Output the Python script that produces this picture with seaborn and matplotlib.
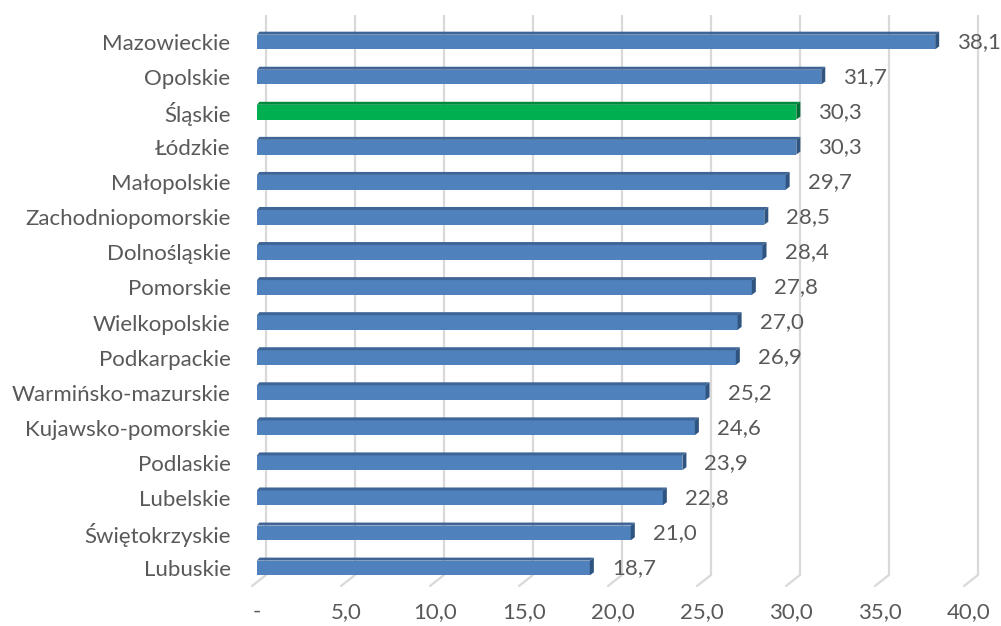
import matplotlib
matplotlib.use("Agg")
import matplotlib.pyplot as plt
import matplotlib.transforms as mtransforms
from matplotlib.patches import Polygon
import seaborn as sns
import pandas as pd

categories = ["Mazowieckie", "Opolskie", "Śląskie", "Łódzkie", "Małopolskie",
              "Zachodniopomorskie", "Dolnośląskie", "Pomorskie", "Wielkopolskie",
              "Podkarpackie", "Warmińsko-mazurskie", "Kujawsko-pomorskie",
              "Podlaskie", "Lubelskie", "Świętokrzyskie", "Lubuskie"]
values = [38.1, 31.7, 30.3, 30.3, 29.7, 28.5, 28.4, 27.8, 27.0, 26.9,
          25.2, 24.6, 23.9, 22.8, 21.0, 18.7]
highlight = "Śląskie"
xticks = [0, 5, 10, 15, 20, 25, 30, 35, 40]
xticklabels = ["-", "5,0", "10,0", "15,0", "20,0", "25,0", "30,0", "35,0", "40,0"]

BLUE = ("#4F81BD", "#3E6596", "#2F5480")
GREEN = ("#00B050", "#008A3E", "#006E32")
TEXT = "#595959"

sns.set_theme(style="white")
plt.rcParams["font.family"] = ["Lato", "DejaVu Sans"]

df = pd.DataFrame({"region": categories, "value": values})
palette = {c: (GREEN[0] if c == highlight else BLUE[0]) for c in categories}

top_px, bot_px = 24.5, 585.5
fig = plt.figure(figsize=(10.01, 6.26), dpi=100)
ax = fig.add_axes([257 / 1001, 1 - bot_px / 626, (969 - 257) / 1001, (bot_px - top_px) / 626])

sns.barplot(data=df, x="value", y="region", hue="region", palette=palette,
            legend=False, orient="h", width=0.42, ax=ax, zorder=3,
            edgecolor="none", linewidth=0, saturation=1)

ax.set_xlim(0, 40)
ax.set_ylim(len(categories) - 0.5, -0.5)

# 3D faces derived from the bar patches
px = 1 / 17.8  # data units per pixel horizontally
py = 1 / 35.07  # data units per pixel vertically
dx, dy = 4 * px, 3 * py
bars = list(ax.patches)
for p, cat, val in zip(bars, categories, values):
    cols = GREEN if cat == highlight else BLUE
    x0, y0 = p.get_x(), p.get_y()
    w, h = p.get_width(), p.get_height()
    ytop = y0  # inverted axis: y0 is top edge
    ybot = y0 + h
    top = Polygon([(x0, ytop), (x0 + w, ytop), (x0 + w + dx, ytop - dy), (x0 + dx * 0.6, ytop - dy)],
                  closed=True, facecolor=cols[1], edgecolor="none", zorder=3)
    side = Polygon([(x0 + w, ytop), (x0 + w + dx, ytop - dy), (x0 + w + dx, ybot - dy), (x0 + w, ybot)],
                   closed=True, facecolor=cols[2], edgecolor="none", zorder=3)
    ax.add_patch(top)
    ax.add_patch(side)
    ax.annotate(f"{val:.1f}".replace(".", ","), xy=(x0 + w, y0 + h / 2),
                xytext=(22 * 0.72, 0), textcoords="offset points",
                ha="left", va="center", fontsize=16, color=TEXT)

# back-wall gridlines with floor segments (3D look)
blend = mtransforms.blended_transform_factory(ax.transData, ax.transAxes)
ax_h_px = bot_px - top_px
for v in xticks:
    shift = mtransforms.ScaledTranslation(9 / 100, 0, fig.dpi_scale_trans)
    t = blend + shift
    ax.plot([v, v], [1 + 9.5 / ax_h_px, 10.5 / ax_h_px], transform=t,
            color="#D9D9D9", lw=1.6, zorder=1, clip_on=False, solid_capstyle="butt")
    ax.plot([v + 9 * px, v - 5 * px], [10.5 / ax_h_px, -0.5 / ax_h_px], transform=blend,
            color="#D9D9D9", lw=1.6, zorder=1, clip_on=False)

ax.set_xticks(xticks)
ax.set_xticklabels(xticklabels)
ax.grid(False)
for s in ax.spines.values():
    s.set_visible(False)
ax.set_xlabel("")
ax.set_ylabel("")
ax.tick_params(axis="x", length=0, pad=12, labelsize=16, labelcolor=TEXT)
ax.tick_params(axis="y", length=0, pad=19, labelsize=16, labelcolor=TEXT)

fig.savefig("out.png", dpi=100)
